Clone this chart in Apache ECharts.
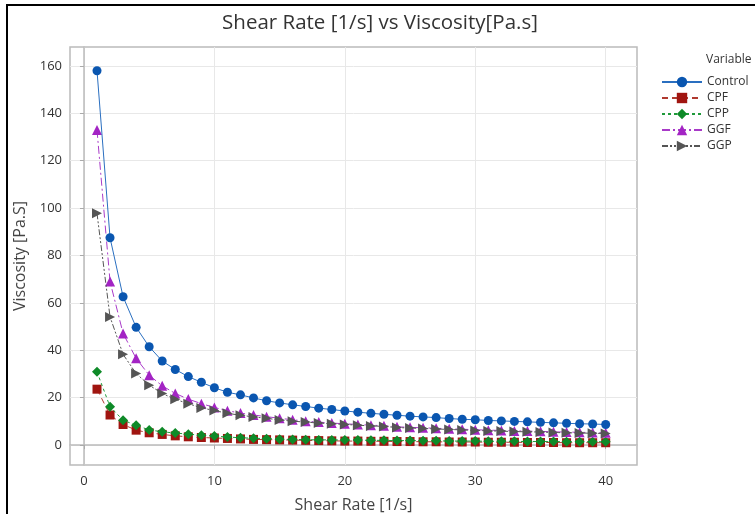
<!DOCTYPE html>
<html lang="en">
<head>
    <meta charset="UTF-8">
    <title>Shear Rate vs Viscosity</title>
    <script src="https://cdn.jsdelivr.net/npm/echarts@6/dist/echarts.min.js"></script>
    <style>
        html, body { margin: 0; padding: 0; background: #fff; }
        #chart { width: 755px; height: 514px; }
    </style>
</head>
<body>
    <div id="chart"></div>

    <script>
        // Shear rate steps (1/s)
        var shearRate = [1, 2, 3, 4, 5, 6, 7, 8, 9, 10, 11, 12, 13, 14, 15, 16, 17, 18, 19, 20,
            21, 22, 23, 24, 25, 26, 27, 28, 29, 30, 31, 32, 33, 34, 35, 36, 37, 38, 39, 40];

        // Viscosity values (Pa.s)
        var control = [158, 87.5, 62.6, 49.7, 41.5, 35.5, 31.9, 28.9, 26.5, 24.2, 22.3, 21.2, 19.9, 18.7, 17.8,
            17.0, 16.3, 15.6, 15.0, 14.4, 13.9, 13.4, 13.0, 12.6, 12.2, 11.9, 11.6, 11.2, 10.9, 10.7,
            10.4, 10.2, 10.0, 9.8, 9.6, 9.4, 9.2, 9.0, 8.9, 8.7];
        var cpf = [23.6, 12.7, 8.7, 6.3, 5.2, 4.5, 3.9, 3.5, 3.2, 3.0, 2.8, 2.6, 2.4, 2.3, 2.2,
            2.1, 2.0, 1.9, 1.8, 1.7, 1.7, 1.6, 1.6, 1.5, 1.5, 1.4, 1.4, 1.3, 1.3, 1.3,
            1.2, 1.2, 1.2, 1.1, 1.1, 1.1, 1.0, 1.0, 1.0, 1.0];
        var cpp = [30.9, 16.2, 10.5, 8.4, 6.4, 5.6, 5.1, 4.6, 4.2, 3.8, 3.4, 3.1, 2.9, 2.7, 2.5,
            2.4, 2.3, 2.2, 2.2, 2.1, 2.1, 2.0, 2.0, 1.9, 1.9, 1.8, 1.8, 1.7, 1.7, 1.7,
            1.6, 1.6, 1.6, 1.5, 1.5, 1.5, 1.4, 1.4, 1.4, 1.4];
        var ggf = [133, 69, 47.1, 36.6, 29.5, 25.0, 21.8, 19.4, 17.5, 15.9, 14.5, 13.5, 12.7, 12.0, 11.3,
            10.7, 10.1, 9.7, 9.3, 9.0, 8.7, 8.4, 8.2, 7.7, 7.5, 7.3, 7.1, 6.9, 6.7, 6.5,
            6.3, 6.2, 6.0, 5.9, 5.8, 5.6, 5.5, 5.4, 5.3, 5.2];
        var ggp = [97.8, 54.1, 38.3, 30.2, 25.3, 21.8, 19.3, 17.5, 15.7, 14.6, 13.4, 12.6, 11.9, 11.3, 10.6,
            10.1, 9.7, 9.3, 9.0, 8.7, 8.4, 8.1, 7.9, 7.4, 7.2, 7.0, 6.8, 6.6, 6.4, 6.2,
            6.0, 5.9, 5.7, 5.6, 5.5, 5.3, 5.2, 5.1, 5.0, 4.9];

        // Tick labels
        var xTicks = [0, 10, 20, 30, 40];
        var yTicks = [0, 20, 40, 60, 80, 100, 120, 140, 160];

        function pairs(ys) {
            return shearRate.map(function (x, i) { return [x, ys[i]]; });
        }

        var chart = echarts.init(document.getElementById('chart'));

        var font = '"Open Sans", "Noto Sans", sans-serif';

        var option = {
            animation: false,
            textStyle: { fontFamily: font },
            title: {
                text: 'Shear Rate [1/s] vs Viscosity[Pa.s]',
                left: 375,
                textAlign: 'center',
                top: 8,
                textStyle: { fontFamily: font, fontSize: 20.5, fontWeight: 'normal', color: '#333' }
            },
            grid: { left: 70, right: 118, top: 47, bottom: 49, outerBoundsMode: 'none' },
            legend: {
                orient: 'vertical',
                left: 656,
                top: 71,
                itemWidth: 40,
                itemHeight: 13,
                itemGap: 4,
                textStyle: { fontFamily: font, fontSize: 12, color: '#333' },
                data: ['Control', 'CPF', 'CPP', 'GGF', 'GGP']
            },
            xAxis: {
                type: 'value',
                min: -1.07,
                max: 42.4,
                name: 'Shear Rate [1/s]',
                nameLocation: 'middle',
                nameGap: 32,
                nameTextStyle: { fontFamily: font, fontSize: 16, color: '#444' },
                axisLine: { show: true, lineStyle: { color: '#bbb', width: 1.5 } },
                axisTick: { show: true, customValues: xTicks, length: 4, lineStyle: { color: '#aaa' } },
                axisLabel: { customValues: xTicks, fontSize: 13, color: '#333', margin: 10 },
                splitLine: { show: true, lineStyle: { color: '#e8e8e8' } }
            },
            yAxis: {
                type: 'value',
                min: -8.4,
                max: 168,
                name: 'Viscosity [Pa.S]',
                nameLocation: 'middle',
                nameGap: 40,
                nameTextStyle: { fontFamily: font, fontSize: 16, color: '#444' },
                axisLine: { show: true, lineStyle: { color: '#bbb', width: 1.5 } },
                axisTick: { show: true, customValues: yTicks, length: 4, lineStyle: { color: '#aaa' } },
                axisLabel: { customValues: yTicks, fontSize: 13, color: '#333', margin: 8 },
                splitLine: { show: true, lineStyle: { color: '#e8e8e8' } }
            },
            graphic: [
                // plot frame (top & right)
                {
                    type: 'rect',
                    shape: { x: 70, y: 47, width: 567, height: 418 },
                    style: { fill: 'none', stroke: '#bbb', lineWidth: 1.5 },
                    silent: true
                },
                // outer black border of the figure
                {
                    type: 'rect',
                    shape: { x: 7, y: 5, width: 800, height: 600 },
                    style: { fill: 'none', stroke: '#000', lineWidth: 2 },
                    silent: true
                },
                {
                    type: 'text',
                    left: 706,
                    top: 54,
                    style: { text: 'Variable', fontFamily: font, fontSize: 12, fill: '#333' }
                }
            ],
            series: [
                {
                    name: 'Control', type: 'line', data: pairs(control),
                    symbol: 'circle', symbolSize: 9,
                    itemStyle: { color: '#0a56b0' },
                    lineStyle: { color: '#2a6fc0', width: 1 },
                    z: 6
                },
                {
                    name: 'CPF', type: 'line', data: pairs(cpf),
                    symbol: 'rect', symbolSize: 9,
                    itemStyle: { color: '#a01510' },
                    lineStyle: { color: '#b03a30', width: 1, type: [6, 4] },
                    z: 2
                },
                {
                    name: 'CPP', type: 'line', data: pairs(cpp),
                    symbol: 'diamond', symbolSize: 10,
                    itemStyle: { color: '#0e8a28' },
                    lineStyle: { color: '#1f9a3a', width: 1, type: [3, 3] },
                    z: 3
                },
                {
                    name: 'GGF', type: 'line', data: pairs(ggf),
                    symbol: 'triangle', symbolSize: 10,
                    itemStyle: { color: '#a324c4' },
                    lineStyle: { color: '#a83ac8', width: 1, type: [8, 3, 2, 3] },
                    z: 4
                },
                {
                    name: 'GGP', type: 'line', data: pairs(ggp),
                    symbol: 'triangle', symbolSize: 10, symbolRotate: -90,
                    itemStyle: { color: '#555' },
                    lineStyle: { color: '#555', width: 1, type: [6, 2, 2, 2, 2, 2] },
                    z: 5
                }
            ]
        };

        chart.setOption(option);
    </script>
</body>
</html>
